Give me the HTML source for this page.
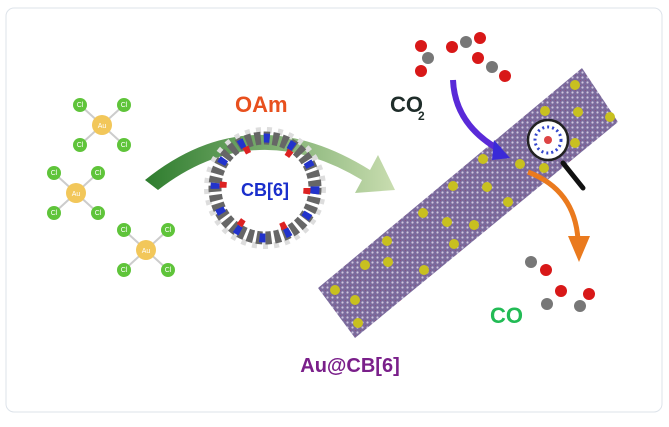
<!DOCTYPE html>
<html><head><style>
body{margin:0;background:#fff;}
svg{display:block;font-family:"Liberation Sans",sans-serif;}
</style></head><body>
<svg width="669" height="427" viewBox="0 0 669 427">
<defs>
<linearGradient id="ga" x1="0" y1="0" x2="1" y2="0">
<stop offset="0" stop-color="#2e7d2e"/><stop offset="1" stop-color="#c9ddb0"/></linearGradient>
<pattern id="mesh" width="5" height="5" patternUnits="userSpaceOnUse">
<rect width="5" height="5" fill="#7a6a9c"/><circle cx="2.5" cy="2.5" r="1.1" fill="#cfc6df"/><circle cx="0" cy="0" r="0.8" fill="#9a3a60"/></pattern>
<g id="au">
<line x1="-22" y1="-20" x2="22" y2="20" stroke="#ccc" stroke-width="2"/>
<line x1="22" y1="-20" x2="-22" y2="20" stroke="#ccc" stroke-width="2"/>
<circle cx="0" cy="0" r="10" fill="#f2c75a"/><text x="0" y="3" font-size="7" fill="#fff" text-anchor="middle">Au</text>
<circle cx="-22" cy="-20" r="7" fill="#5fc43a"/><circle cx="22" cy="-20" r="7" fill="#5fc43a"/>
<circle cx="-22" cy="20" r="7" fill="#5fc43a"/><circle cx="22" cy="20" r="7" fill="#5fc43a"/>
<g font-size="7" fill="#fff" text-anchor="middle"><text x="-22" y="-18">Cl</text><text x="22" y="-18">Cl</text><text x="-22" y="22">Cl</text><text x="22" y="22">Cl</text></g>
</g>
</defs>
<rect x="6" y="8" width="656" height="404" rx="8" fill="#fff" stroke="#dde3ea"/>
<use href="#au" x="102" y="125"/><use href="#au" x="76" y="193"/><use href="#au" x="146" y="250"/>
<!-- big arrow -->
<path d="M145 180 Q250 95 370 170 L378 155 L395 190 L355 193 L362 180 Q255 115 158 190 Z" fill="url(#ga)"/>
<text x="235" y="112" font-size="22" font-weight="bold" fill="#e8501e">OAm</text>
<!-- CB6 ring -->
<circle cx="265" cy="188" r="58" fill="none" stroke="#ddd" stroke-width="6" stroke-dasharray="5 6"/>
<circle cx="265" cy="188" r="50" fill="none" stroke="#666" stroke-width="13" stroke-dasharray="6 3"/>
<circle cx="265" cy="188" r="50" fill="none" stroke="#2233cc" stroke-width="9" stroke-dasharray="6 20"/>
<circle cx="265" cy="188" r="42" fill="none" stroke="#d22" stroke-width="7" stroke-dasharray="6 38"/>
<text x="265" y="196" font-size="18" font-weight="bold" fill="#1a2fcc" text-anchor="middle">CB[6]</text>
<!-- nanosheet -->
<polygon points="318,288 355,338 618,122 582,68" fill="url(#mesh)"/>
<g fill="#c8c020">
<circle cx="335" cy="290" r="5"/><circle cx="355" cy="300" r="5"/><circle cx="358" cy="323" r="5"/><circle cx="365" cy="265" r="5"/><circle cx="388" cy="262" r="5"/><circle cx="387" cy="241" r="5"/><circle cx="424" cy="270" r="5"/><circle cx="423" cy="213" r="5"/><circle cx="447" cy="222" r="5"/><circle cx="454" cy="244" r="5"/><circle cx="474" cy="225" r="5"/><circle cx="453" cy="186" r="5"/><circle cx="487" cy="187" r="5"/><circle cx="483" cy="159" r="5"/><circle cx="508" cy="202" r="5"/><circle cx="520" cy="164" r="5"/><circle cx="544" cy="168" r="5"/><circle cx="545" cy="111" r="5"/><circle cx="578" cy="112" r="5"/><circle cx="575" cy="85" r="5"/><circle cx="610" cy="117" r="5"/><circle cx="575" cy="143" r="5"/>
</g>
<!-- magnifier -->
<line x1="563" y1="163" x2="583" y2="188" stroke="#111" stroke-width="5" stroke-linecap="round"/>
<circle cx="548" cy="140" r="20" fill="#fff" stroke="#222" stroke-width="2.5"/>
<circle cx="548" cy="140" r="13" fill="none" stroke="#3346cc" stroke-width="3" stroke-dasharray="2 3"/>
<circle cx="548" cy="140" r="4" fill="#d44"/>
<!-- purple arrow -->
<path d="M453 80 Q455 125 500 150" fill="none" stroke="#5a2ad8" stroke-width="6"/>
<polygon points="494,140 510,158 492,160" fill="#3a2ad8"/>
<!-- orange arrow -->
<path d="M528 172 Q575 190 578 240" fill="none" stroke="#ea7a1e" stroke-width="5"/>
<polygon points="568,236 590,236 579,262" fill="#ea7a1e"/>
<text x="390" y="112" font-size="22" font-weight="bold" fill="#1f2d2a">CO</text><text x="418" y="120" font-size="12" font-weight="bold" fill="#1f2d2a">2</text>
<g><circle cx="421" cy="46" r="6" fill="#d81818"/><circle cx="428" cy="58" r="6" fill="#777"/><circle cx="421" cy="71" r="6" fill="#d81818"/>
<circle cx="452" cy="47" r="6" fill="#d81818"/><circle cx="466" cy="42" r="6" fill="#777"/><circle cx="480" cy="38" r="6" fill="#d81818"/>
<circle cx="478" cy="58" r="6" fill="#d81818"/><circle cx="492" cy="67" r="6" fill="#777"/><circle cx="505" cy="76" r="6" fill="#d81818"/></g>
<g><circle cx="531" cy="262" r="6" fill="#777"/><circle cx="546" cy="270" r="6" fill="#d81818"/>
<circle cx="547" cy="304" r="6" fill="#777"/><circle cx="561" cy="291" r="6" fill="#d81818"/>
<circle cx="580" cy="306" r="6" fill="#777"/><circle cx="589" cy="294" r="6" fill="#d81818"/></g>
<text x="490" y="323" font-size="22" font-weight="bold" fill="#22bb55">CO</text>
<text x="350" y="372" font-size="20" font-weight="bold" fill="#7a1f8a" text-anchor="middle">Au@CB[6]</text>
</svg>
</body></html>
